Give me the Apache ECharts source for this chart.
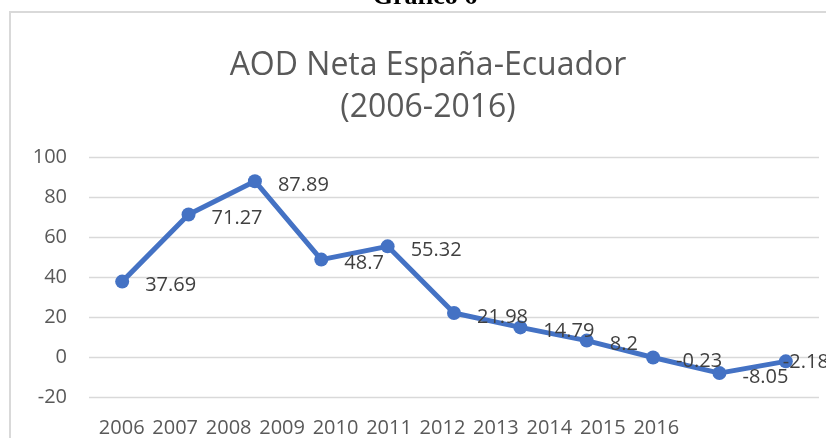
<!DOCTYPE html>
<html>
<head>
<meta charset="utf-8">
<script src="https://cdn.jsdelivr.net/npm/echarts@6/dist/echarts.min.js"></script>
<style>
  html, body { margin: 0; padding: 0; background: #fff; }
  #chart { width: 826px; height: 438px; }
</style>
</head>
<body>
<div id="chart"></div>
<script>
// AOD Neta España-Ecuador (2006-2016)
var years = ['2006', '2007', '2008', '2009', '2010', '2011', '2012', '2013', '2014', '2015', '2016'];
var aodNeta = [37.69, 71.27, 87.89, 48.7, 55.32, 21.98, 14.79, 8.2, -0.23, -8.05, -2.18];
var yMin = -20;
var yMax = 100;
var yStep = 20;

(function () {
  var font = "'Open Sans', sans-serif";
  var grey = '#595959';
  var blue = '#4472C4';

  var points = aodNeta.map(function (v, i) {
    if (i === aodNeta.length - 1) {
      return { value: v, label: { offset: [-26, 1] } };
    }
    return v;
  });

  var chart = echarts.init(document.getElementById('chart'), null, { renderer: 'canvas' });
  chart.setOption({
    animation: false,
    backgroundColor: '#fff',
    title: {
      text: 'AOD Neta España-Ecuador\n(2006-2016)',
      left: 423,
      textAlign: 'center',
      top: 40,
      textStyle: { color: grey, fontFamily: font, fontSize: 32, fontWeight: 'normal', lineHeight: 42 }
    },
    graphic: [
      {
        type: 'rect',
        shape: { x: 10, y: 12, width: 840, height: 450 },
        style: { fill: 'none', stroke: '#d9d9d9', lineWidth: 2 },
        silent: true
      },
      {
        type: 'text',
        style: {
          text: 'Gráfico 6', x: 425, y: 10,
          font: 'bold 26px "Liberation Serif", serif',
          fill: '#000', align: 'center', verticalAlign: 'bottom'
        },
        silent: true
      }
    ],
    grid: [
      { left: 89, right: 7, top: 157, bottom: 41 },
      { left: 95, width: 588, top: 157, bottom: 41 }
    ],
    xAxis: [
      {
        type: 'category', gridIndex: 0, data: years, boundaryGap: true,
        axisLine: { show: false }, axisTick: { show: false }, axisLabel: { show: false },
        splitLine: { show: false }
      },
      {
        type: 'category', gridIndex: 1, data: years, boundaryGap: true,
        axisLine: { show: false }, axisTick: { show: false }, splitLine: { show: false },
        axisLabel: { color: grey, fontFamily: font, fontSize: 20, margin: 24, interval: 0 }
      }
    ],
    yAxis: [
      {
        type: 'value', gridIndex: 0, min: yMin, max: yMax, interval: yStep,
        axisLine: { show: false }, axisTick: { show: false },
        axisLabel: { color: grey, fontFamily: font, fontSize: 20, margin: 22 },
        splitLine: { lineStyle: { color: '#d9d9d9', width: 1.3 } }
      },
      {
        type: 'value', gridIndex: 1, min: yMin, max: yMax, show: false
      }
    ],
    series: [{
      name: 'AOD Neta',
      type: 'line',
      xAxisIndex: 0,
      yAxisIndex: 0,
      data: points,
      symbol: 'circle',
      symbolSize: 14,
      lineStyle: { color: blue, width: 5 },
      itemStyle: { color: blue },
      label: {
        show: true, position: 'right', distance: 16, offset: [0, 4],
        color: '#404040', fontFamily: font, fontSize: 20
      }
    }]
  });
})();
</script>
</body>
</html>
